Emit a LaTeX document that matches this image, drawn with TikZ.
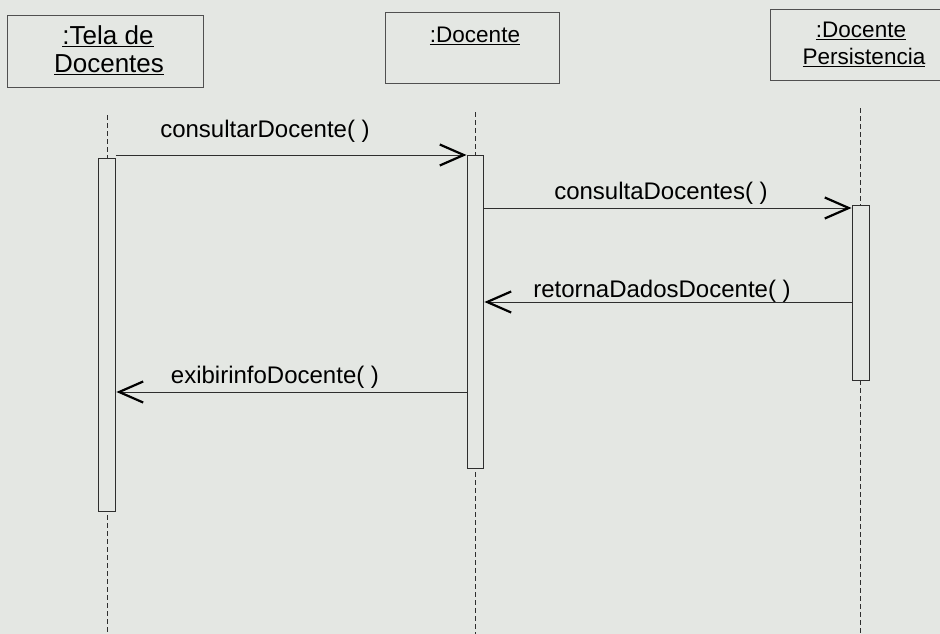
\documentclass[tikz,border=0pt]{standalone}
\usepackage{fontspec}
\setmainfont{Liberation Sans}
\usetikzlibrary{arrows.meta}
\definecolor{paper}{HTML}{E4E7E3}
\definecolor{ink}{HTML}{2E2E2E}
\definecolor{frame}{HTML}{505050}
\tikzset{
  objbox/.style={draw=frame, line width=0.9pt, fill=paper, inner sep=0pt, anchor=north west},
  objname/.style={font=\fontsize{22.5}{28}\selectfont, text=black, align=center, anchor=base, inner sep=0pt},
  bigname/.style={objname, font=\fontsize{26}{30}\selectfont},
  lifeline/.style={draw=ink, line width=0.9pt, dash pattern=on 5pt off 3pt},
  activation/.style={draw=ink, line width=0.9pt, fill=paper, inner sep=0pt, anchor=north west},
  msg/.style={draw=ink, line width=1pt, -{Straight Barb[length=24pt,width=21pt,line width=2.2pt,color=black]}, shorten >=0.5pt},
  msglabel/.style={font=\fontsize{24}{28}\selectfont, text=black, anchor=base, inner sep=0pt}
}
\begin{document}
\begin{tikzpicture}[x=1pt, y=-1pt]
  % page
  \fill[paper] (0,0) rectangle (940,634);
  \useasboundingbox (0,0) rectangle (940,634);

  % object boxes
  \node[objbox, minimum width=196pt, minimum height=72pt] (tela) at (7,15) {};
  \node[objbox, minimum width=174pt, minimum height=71pt] (doc) at (385,12) {};
  \node[objbox, minimum width=180pt, minimum height=71pt] (pers) at (770,9) {};

  \node[bigname] (telaA) at (108,45) {\underline{:Tela de}};
  \node[bigname] (telaB) at (109,73) {\underline{Docentes}};
  \node[objname] (docA) at (475,43) {\underline{:Docente}};
  \node[objname] (persA) at (861,38) {\underline{:Docente}};
  \node[objname] (persB) at (864,65) {\underline{Persistencia}};

  % lifeline ends
  \coordinate (l1top) at (107,115);
  \coordinate (l1bot) at (107,634);
  \coordinate (l2top) at (475,112);
  \coordinate (l2bot) at (475,634);
  \coordinate (l3top) at (860,108);
  \coordinate (l3bot) at (860,634);

  \draw[lifeline] (l1top) -- (l1bot);
  \draw[lifeline] (l2top) -- (l2bot);
  \draw[lifeline] (l3top) -- (l3bot);

  % activation bars
  \node[activation, minimum width=17pt, minimum height=353pt] (a1) at (98,158) {};
  \node[activation, minimum width=16pt, minimum height=313pt] (a2) at (467,155) {};
  \node[activation, minimum width=17pt, minimum height=175pt] (a3) at (852,205) {};

  % messages
  \draw[msg] (a1.north east |- 0,155) -- (a2.north west |- 0,155);
  \node[msglabel] (m1) at (265,137) {consultarDocente( )};

  \draw[msg] (a2.east |- 0,208) -- (a3.west |- 0,208);
  \node[msglabel] (m2) at (661,199) {consultaDocentes( )};

  \draw[msg] (a3.west |- 0,302) -- (a2.east |- 0,302);
  \node[msglabel] (m3) at (662,297) {retornaDadosDocente( )};

  \draw[msg] (a2.west |- 0,392) -- (a1.east |- 0,392);
  \node[msglabel] (m4) at (275,383) {exibirinfoDocente( )};
\end{tikzpicture}
\end{document}
